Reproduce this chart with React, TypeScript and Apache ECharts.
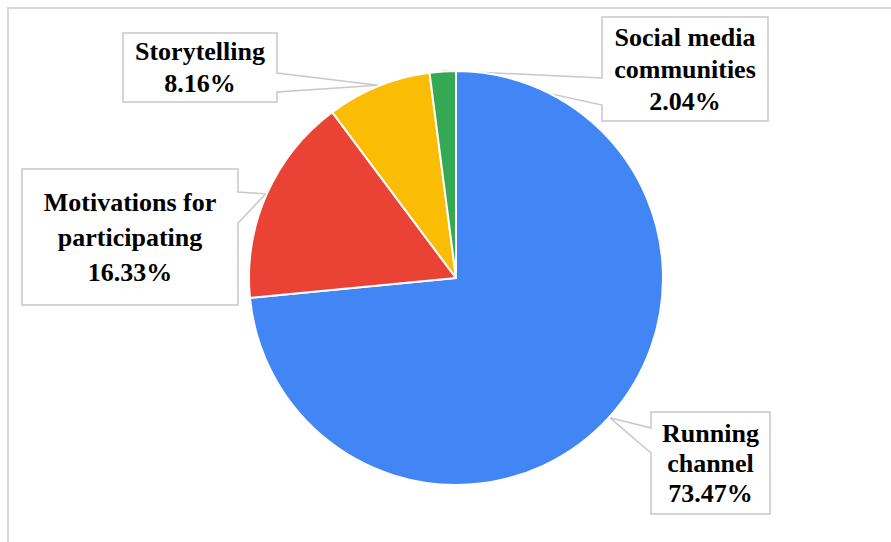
import React, { useEffect, useRef } from "react";
import * as echarts from "echarts";

const categories = ["Running channel", "Motivations for participating", "Storytelling", "Social media communities"];
const labelTexts = ["Running\nchannel", "Motivations for\nparticipating", "Storytelling", "Social media\ncommunities"];
const counts = [36, 8, 4, 1];
const colors = ["#4285F4", "#EA4335", "#FBBC04", "#34A853"];

const FONT = "Times New Roman";

// layout of callout boxes: [left, top, right, bottom], pointer base on side
const boxes = [
  { r: [651, 412, 770, 514], side: "left", base: [428, 453], lh: 30 },
  { r: [22, 169, 238, 305], side: "right", base: [192, 223], lh: 35 },
  { r: [123, 33, 277, 102], side: "right", base: [73, 92], lh: 32 },
  { r: [602, 17, 768, 121], side: "left", base: [78, 105], lh: 32 },
];

const CX = 456;
const CY = 278;
const R = 207;
const TIP_R = 208;

export default function App() {
  const ref = useRef<HTMLDivElement>(null);
  useEffect(() => {
    if (!ref.current) return;
    const chart = echarts.init(ref.current, null, { renderer: "svg" });
    const total = counts.reduce((a, b) => a + b, 0);
    let cum = 0;
    const tips = counts.map((c) => {
      const mid = (cum + c / 2) / total;
      cum += c;
      const ang = mid * 2 * Math.PI;
      return [CX + TIP_R * Math.sin(ang), CY - TIP_R * Math.cos(ang)];
    });
    const callouts = boxes.map((b, i) => {
      const [l, t, rr, btm] = b.r;
      const tip = tips[i];
      let pts: number[][];
      if (b.side === "right") {
        pts = [[l, t], [rr, t], [rr, b.base[0]], tip, [rr, b.base[1]], [rr, btm], [l, btm]];
      } else {
        pts = [[l, t], [rr, t], [rr, btm], [l, btm], [l, b.base[1]], tip, [l, b.base[0]]];
      }
      return {
        type: "polygon",
        z: 0,
        shape: { points: pts },
        style: { fill: "#ffffff", stroke: "#c8c8c8", lineWidth: 1.5 },
      };
    });
    const texts: any[] = [];
    boxes.forEach((b, i) => {
      const [l, t, rr, btm] = b.r;
      const pct = ((counts[i] / total) * 100).toFixed(2);
      const lines = [...labelTexts[i].split("\n"), pct + "%"];
      const cx = (l + rr) / 2;
      const cy = (t + btm) / 2;
      lines.forEach((s, k) => {
        texts.push({
          type: "text",
          x: cx,
          y: cy + (k - (lines.length - 1) / 2) * b.lh,
          style: {
            text: s,
            fontFamily: FONT,
            fontSize: 26,
            fontWeight: "bold",
            fill: "#000",
            align: "center",
            verticalAlign: "middle",
          },
        });
      });
    });
    chart.setOption({
      animation: false,
      backgroundColor: "#ffffff",
      series: [
        {
          type: "pie",
          z: 5,
          center: [CX, CY],
          radius: R,
          startAngle: 90,
          clockwise: true,
          itemStyle: { borderColor: "#ffffff", borderWidth: 2 },
          label: { show: false },
          labelLine: { show: false },
          data: categories.map((name, i) => ({
            name,
            value: counts[i],
            itemStyle: { color: colors[i] },
          })),
        },
      ],
      graphic: [
        {
          type: "rect",
          z: 0,
          shape: { x: 8, y: 8, width: 900, height: 600 },
          style: { fill: "none", stroke: "#d9d9d9", lineWidth: 2 },
        },
        ...callouts,
        { type: "group", z: 100, children: texts },
      ],
    });
    return () => chart.dispose();
  }, []);
  return <div ref={ref} style={{ position: "fixed", left: 0, top: 0, width: 891, height: 542 }} />;
}
